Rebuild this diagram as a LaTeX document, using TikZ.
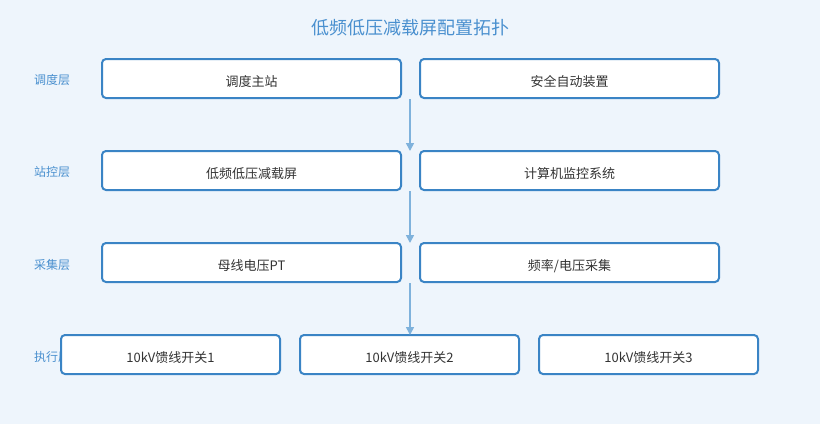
\documentclass[tikz,border=0pt]{standalone}
\usepackage{fontspec}
\setmainfont{Noto Sans CJK SC}
\usetikzlibrary{arrows.meta}
\definecolor{bgc}{HTML}{EEF5FC}
\definecolor{boxc}{HTML}{3A84C5}
\definecolor{titc}{HTML}{4A90CF}
\definecolor{arrc}{HTML}{7FB2DC}
\definecolor{txtc}{HTML}{333333}
\tikzset{
  layerbox/.style={draw=boxc, line width=2pt, fill=white, rounded corners=4pt, minimum width=299pt, minimum height=39pt, inner sep=0pt, text=txtc, font=\fontsize{13}{15}\selectfont, text height=16pt, text depth=0pt},
  smallbox/.style={layerbox, minimum width=219pt},
  layerlabel/.style={text=titc, font=\fontsize{12}{14}\selectfont, anchor=west, inner sep=0pt},
  flow/.style={draw=arrc, line width=1.6pt, -{Triangle[length=8pt,width=8pt]}}
}
\begin{document}
\begin{tikzpicture}[x=1pt,y=-1pt]
\useasboundingbox[fill=bgc] (0,0) rectangle (820,424);
\node[text=titc, font=\fontsize{18}{21}\selectfont] (title) at (410,28) {低频低压减载屏配置拓扑};
\node[layerlabel] (l1) at (34,80) {调度层};
\node[layerlabel] (l2) at (34,172) {站控层};
\node[layerlabel] (l3) at (34,265) {采集层};
\node[layerlabel] (l4) at (34,357) {执行层};
\node[layerbox] (a1) at (251.5,78.5) {调度主站};
\node[layerbox] (a2) at (569.5,78.5) {安全自动装置};
\node[layerbox] (b1) at (251.5,170.5) {低频低压减载屏};
\node[layerbox] (b2) at (569.5,170.5) {计算机监控系统};
\node[layerbox] (c1) at (251.5,262.5) {母线电压PT};
\node[layerbox] (c2) at (569.5,262.5) {频率/电压采集};
\node[smallbox] (d1) at (170.5,354.5) {10kV馈线开关1};
\node[smallbox] (d2) at (409.5,354.5) {10kV馈线开关2};
\node[smallbox] (d3) at (648.5,354.5) {10kV馈线开关3};
\coordinate (t1) at (410,99);
\coordinate (h1) at (410,151);
\coordinate (t2) at (410,191);
\coordinate (h2) at (410,243);
\coordinate (t3) at (410,283);
\coordinate (h3) at (410,335);
\draw[flow] (t1) -- (h1);
\draw[flow] (t2) -- (h2);
\draw[flow] (t3) -- (h3);
\end{tikzpicture}
\end{document}
